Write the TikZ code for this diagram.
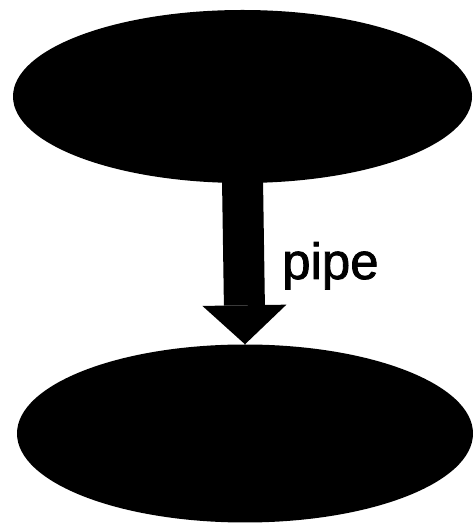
\documentclass[tikz,border=0pt]{standalone}
\usepackage{fontspec}
\setmainfont{Liberation Sans}
\newfontfamily\pipefont[FakeBold=1.6]{Liberation Sans}
\usetikzlibrary{shapes.geometric,arrows.meta}
\begin{document}
\begin{tikzpicture}[x=1pt,y=1pt,
  blob/.style={ellipse, fill=black, draw=none, inner sep=0pt},
  pipearrow/.style={line width=41pt, -{Triangle[width=84pt,length=39pt,line width=0pt]}},
  lbl/.style={font=\pipefont\fontsize{51}{51}\selectfont, inner sep=0pt}]
\useasboundingbox (0,0) rectangle (473,524);
\node[blob, minimum width=459pt, minimum height=173pt] (top) at (242.5,427.5) {};
\node[blob, minimum width=456pt, minimum height=178pt] (bot) at (245,90.5) {};
\draw[pipearrow] ([yshift=4pt]top.south) -- (bot.north);
\node[lbl, anchor=base west] (label) at (282,245) {pipe};
\end{tikzpicture}
\end{document}
